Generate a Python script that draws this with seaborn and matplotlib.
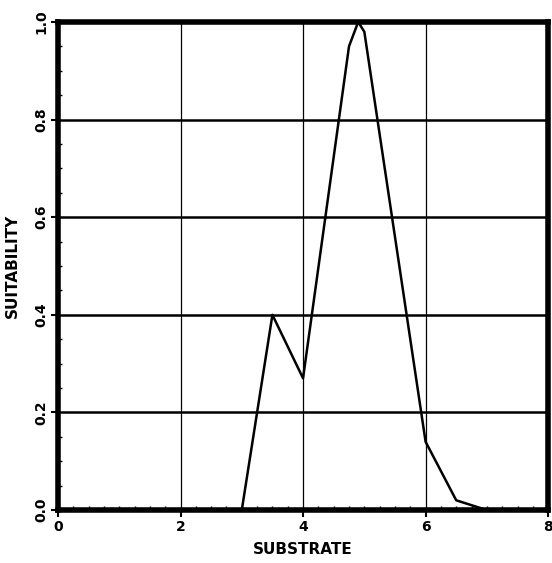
import numpy as np
import pandas as pd
import seaborn as sns
import matplotlib.pyplot as plt
from matplotlib.ticker import MultipleLocator

# values
substrate = [0, 1, 2, 3, 3.5, 4, 4.75, 4.9, 5.0, 6.0, 6.5, 7, 8]
suitability = [0, 0, 0, 0, 0.40, 0.27, 0.95, 1.0, 0.98, 0.14, 0.02, 0, 0]
x_ticks = [0, 2, 4, 6, 8]
y_ticks = [0.0, 0.2, 0.4, 0.6, 0.8, 1.0]

df = pd.DataFrame({"SUBSTRATE": substrate, "SUITABILITY": suitability})

sns.set_theme(style="white")
plt.rcParams["font.family"] = ["DejaVu Sans"]
plt.rcParams["text.color"] = "black"
plt.rcParams["axes.labelcolor"] = "black"
plt.rcParams["xtick.color"] = "black"
plt.rcParams["ytick.color"] = "black"

fig = plt.figure(figsize=(5.52, 5.63), dpi=100)
ax = fig.add_axes([0.105, 0.094, 0.888, 0.867])

sns.lineplot(data=df, x="SUBSTRATE", y="SUITABILITY", color="black",
             linewidth=1.8, ax=ax, zorder=3)

ax.set_xlim(0, 8)
ax.set_ylim(0, 1.0)
ax.set_xticks(x_ticks)
ax.set_xticklabels([str(v) for v in x_ticks], fontsize=10, fontweight="bold")
ax.set_yticks(y_ticks)
ax.set_yticklabels([f"{v:.1f}" for v in y_ticks], fontsize=10,
                   fontweight="bold", rotation=90, va="center")
ax.xaxis.set_minor_locator(MultipleLocator(0.25))
ax.yaxis.set_minor_locator(MultipleLocator(0.05))

# heavy horizontal rules, thin vertical rules
ax.yaxis.grid(True, which="major", color="black", linewidth=1.8)
ax.xaxis.grid(True, which="major", color="black", linewidth=0.9)

for side in ["left", "right", "top", "bottom"]:
    ax.spines[side].set_visible(True)
    ax.spines[side].set_color("black")
    ax.spines[side].set_linewidth(4)

ax.tick_params(axis="both", which="major", direction="out", length=5,
               width=1.5, color="black", labelcolor="black", pad=2,
               bottom=True, left=True)
ax.tick_params(axis="both", which="minor", direction="in", length=3,
               width=1.0, color="black", bottom=True, left=True)

ax.set_xlabel("SUBSTRATE", fontsize=11, fontweight="bold", labelpad=6,
              color="black")
ax.set_ylabel("SUITABILITY", fontsize=11, fontweight="bold", labelpad=10,
              color="black")

fig.savefig("out.png", dpi=100)
plt.close(fig)
